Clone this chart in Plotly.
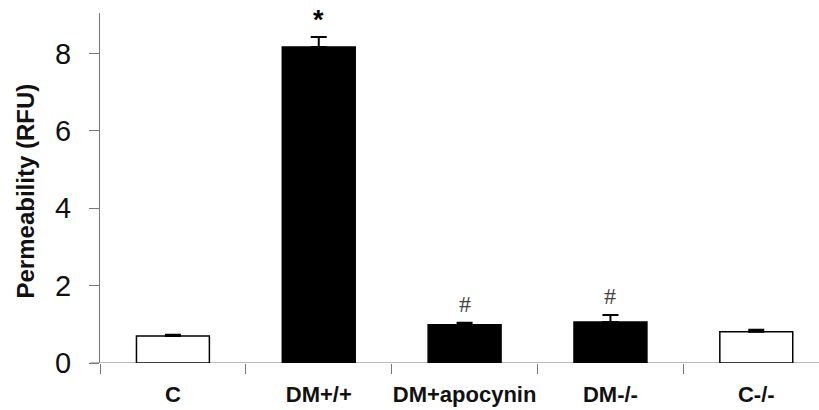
import plotly.graph_objects as go

categories = ["C", "DM+/+", "DM+apocynin", "DM-/-", "C-/-"]
values = [0.70, 8.17, 0.99, 1.06, 0.81]
errors = [0.03, 0.26, 0.05, 0.18, 0.05]
fills = ["white", "black", "black", "black", "white"]
marks = ["", "*", "#", "#", ""]

xpos = list(range(len(categories)))

W, H = 819, 410
L, R, T, B = 100, 0, 13, 47
PW = W - L - R

fig = go.Figure()
fig.add_trace(go.Bar(
    x=xpos, y=values, width=0.5,
    marker=dict(color=fills, line=dict(color="black", width=1.5)),
    error_y=dict(type="data", symmetric=False, array=errors,
                 arrayminus=[0] * len(errors), color="black",
                 thickness=2, width=8),
    showlegend=False, hoverinfo="skip",
))

for xi, v, e, m in zip(xpos, values, errors, marks):
    if not m:
        continue
    if m == "*":
        font = dict(family="Liberation Sans", size=27, color="black")
        shift = 0
    else:
        font = dict(family="Liberation Serif", size=24, color="#444")
        shift = 4
    fig.add_annotation(x=xi, y=v + e, text=("<b>*</b>" if m == "*" else m),
                       showarrow=False, yanchor="bottom", yshift=shift,
                       font=font)

fig.add_annotation(xref="paper", yref="paper", x=(25 - L) / PW, y=0.49,
                   text="<b>Permeability (RFU)</b>", textangle=-90,
                   showarrow=False, xanchor="center", yanchor="middle",
                   font=dict(family="Liberation Sans", size=24, color="#111"))

fig.update_layout(
    width=W, height=H,
    margin=dict(l=L, r=R, t=T, b=B),
    plot_bgcolor="white", paper_bgcolor="white",
    xaxis=dict(
        range=[-0.5, 4.43], tickvals=xpos, automargin=False,
        ticktext=["<b>%s</b>" % c for c in categories],
        ticks="", showline=False, showgrid=False, zeroline=False,
        tickfont=dict(family="Liberation Sans", size=22, color="#111"),
        ticklabelstandoff=16,
        minor=dict(tickvals=[i - 0.5 for i in range(6)], ticks="outside",
                   ticklen=10, tickcolor="#777", tickwidth=1),
    ),
    yaxis=dict(
        range=[0, 9.05], tickvals=[0, 2, 4, 6, 8], automargin=False,
        ticks="outside", ticklen=10, tickcolor="#777", tickwidth=1,
        showline=True, linecolor="#777", linewidth=1,
        showgrid=False, zeroline=False,
        tickfont=dict(family="Liberation Sans", size=29, color="#111"),
        ticklabelstandoff=12,
    ),
    shapes=[dict(type="line", xref="paper", yref="y", x0=-10 / PW, x1=1.0,
                 y0=0, y1=0, line=dict(color="#777", width=1), layer="below")],
)

fig.write_html("out.html", config={"displayModeBar": False},
               post_script="document.body.style.margin='0';")
